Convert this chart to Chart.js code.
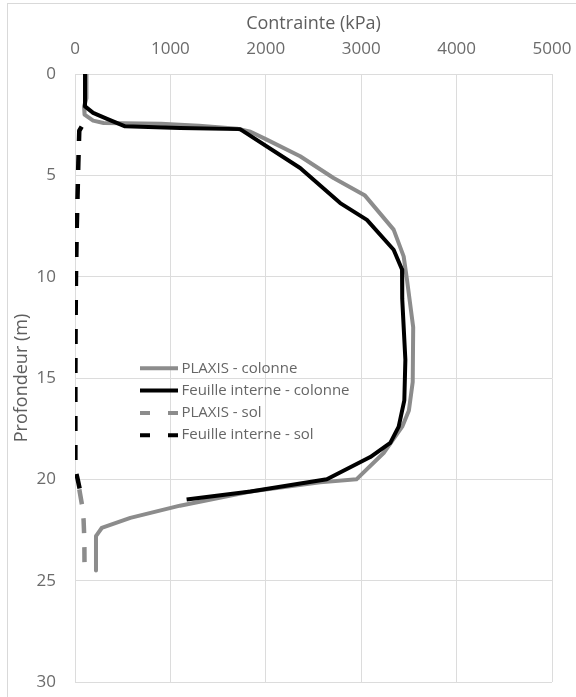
<!DOCTYPE html>
<html>
<head>
<meta charset="utf-8">
<script src="https://cdn.jsdelivr.net/npm/chart.js@4"></script>
<style>
  body { margin: 0; background: #fff; }
  .frame { position: absolute; left: 7px; top: 3px; width: 600px; height: 693px; border: 1px solid #d9d9d9; }
  .wrap { position: absolute; left: 0; top: 0; width: 576px; height: 697px; }
</style>
</head>
<body>
<div class="frame"></div>
<div class="wrap"><canvas id="chart" width="576" height="697"></canvas></div>
<script>
// axis ticks
const stressTicks = [0, 1000, 2000, 3000, 4000, 5000]
const depthTicks = [0, 5, 10, 15, 20, 25, 30]

// PLAXIS - colonne
const plaxisColDepth = [0, 1.2, 1.6, 2.0, 2.3, 2.42, 2.45, 2.55, 2.7, 2.85, 3.24, 4.06, 5.13, 6.0, 7.68, 9.0, 10.15, 12.5, 15.2, 16.6, 17.4, 18.7, 20.0, 20.15, 20.6, 21.3, 21.9, 22.4, 22.8, 24.5]
const plaxisColStress = [120, 120, 95, 100, 190, 300, 900, 1300, 1700, 1840, 2010, 2360, 2710, 3040, 3340, 3445, 3480, 3545, 3540, 3500, 3430, 3235, 2950, 2570, 1840, 1100, 580, 280, 220, 220]

// Feuille interne - colonne
const feuilleColDepth = [0, 1.6, 1.92, 2.2, 2.58, 2.66, 2.72, 4.64, 6.37, 7.2, 8.67, 9.65, 11.1, 14.1, 16.1, 17.4, 18.2, 18.9, 20.0, 20.6, 21.0]
const feuilleColStress = [105, 105, 190, 330, 525, 1100, 1730, 2360, 2780, 3060, 3340, 3428, 3430, 3463, 3452, 3393, 3305, 3095, 2640, 1840, 1170]

// PLAXIS - sol
const plaxisSolDepth = [20.5, 21.3, 22.0, 23.0, 24.5]
const plaxisSolStress = [45, 75, 90, 98, 100]

// Feuille interne - sol
const feuilleSolDepth = [2.6, 2.8, 4.4, 7.7, 10.1, 12.6, 15.0, 19.5, 20.0, 20.6]
const feuilleSolStress = [70, 45, 35, 18, 10, 6, 4, 4, 28, 55]

const labels = ['PLAXIS - colonne', 'Feuille interne - colonne', 'PLAXIS - sol', 'Feuille interne - sol']

const gray = '#8c8c8c'
const gridColor = '#dcdcdc'
const textColor = '#6b6b6b'
const fontFamily = "'Open Sans', 'DejaVu Sans', sans-serif"

const toPoints = (xs, ys) => xs.map((x, i) => ({ x: x, y: ys[i] }))

// legend drawn inside the plot area, like the original
const insideLegend = {
    id: 'insideLegend',
    afterDraw(chart) {
        const ctx = chart.ctx
        const area = chart.chartArea
        const lineX = area.left + 65
        const lineW = 38
        const firstY = area.top + 294.3
        const rowH = 22.3
        chart.data.datasets.forEach((ds, i) => {
            const y = firstY + i * rowH
            ctx.save()
            ctx.strokeStyle = ds.borderColor
            ctx.lineWidth = 4
            ctx.setLineDash(ds.borderDash.length ? [10, 18] : [])
            ctx.beginPath()
            ctx.moveTo(lineX, y)
            ctx.lineTo(lineX + lineW, y)
            ctx.stroke()
            ctx.setLineDash([])
            ctx.fillStyle = '#666'
            ctx.font = '15px ' + fontFamily
            ctx.textBaseline = 'middle'
            ctx.textAlign = 'left'
            ctx.fillText(ds.label, lineX + lineW + 3.5, y)
            ctx.restore()
        })
    }
}

new Chart(document.getElementById('chart'), {
    type: 'scatter',
    data: {
        datasets: [
            { label: labels[0], data: toPoints(plaxisColStress, plaxisColDepth), borderColor: gray, borderWidth: 4, borderDash: [], order: 4 },
            { label: labels[1], data: toPoints(feuilleColStress, feuilleColDepth), borderColor: '#000', borderWidth: 4, borderDash: [], order: 3 },
            { label: labels[2], data: toPoints(plaxisSolStress, plaxisSolDepth), borderColor: gray, borderWidth: 4.5, borderDash: [15, 14], order: 2 },
            { label: labels[3], data: toPoints(feuilleSolStress, feuilleSolDepth), borderColor: '#000', borderWidth: 4.5, borderDash: [15, 14], order: 1 }
        ].map(ds => Object.assign(ds, { showLine: true, pointRadius: 0, tension: 0, fill: false, borderJoinStyle: 'round' }))
    },
    options: {
        responsive: false,
        animation: false,
        layout: { padding: { top: 0, left: 0, right: 24, bottom: 15 } },
        plugins: {
            legend: { display: false },
            tooltip: { enabled: false }
        },
        scales: {
            x: {
                type: 'linear',
                position: 'top',
                min: stressTicks[0],
                max: stressTicks[stressTicks.length - 1],
                afterBuildTicks: scale => { scale.ticks = stressTicks.map(v => ({ value: v })) },
                afterFit: scale => {
                    scale.height = 74
                    scale.paddingLeft = 0
                    scale.paddingRight = 0
                },
                grid: { color: gridColor, drawTicks: false },
                border: { color: gridColor },
                ticks: { color: textColor, padding: 15, font: { family: fontFamily, size: 17 }, callback: v => String(v) },
                title: {
                    display: true,
                    text: 'Contrainte (kPa)',
                    color: '#5e5e5e',
                    padding: { top: 13, bottom: 0 },
                    font: { family: fontFamily, size: 18 }
                }
            },
            y: {
                type: 'linear',
                reverse: true,
                min: depthTicks[0],
                max: depthTicks[depthTicks.length - 1],
                afterBuildTicks: scale => { scale.ticks = depthTicks.map(v => ({ value: v })) },
                afterFit: scale => {
                    scale.width = 75
                    scale.paddingTop = 0
                    scale.paddingBottom = 0
                },
                grid: { color: gridColor, drawTicks: false },
                border: { color: gridColor },
                ticks: { color: textColor, padding: 19, font: { family: fontFamily, size: 17 }, callback: v => String(v) },
                title: {
                    display: true,
                    text: 'Profondeur (m)',
                    color: '#5e5e5e',
                    padding: { top: 11, bottom: 0 },
                    font: { family: fontFamily, size: 18 }
                }
            }
        }
    },
    plugins: [insideLegend]
})
</script>
</body>
</html>
